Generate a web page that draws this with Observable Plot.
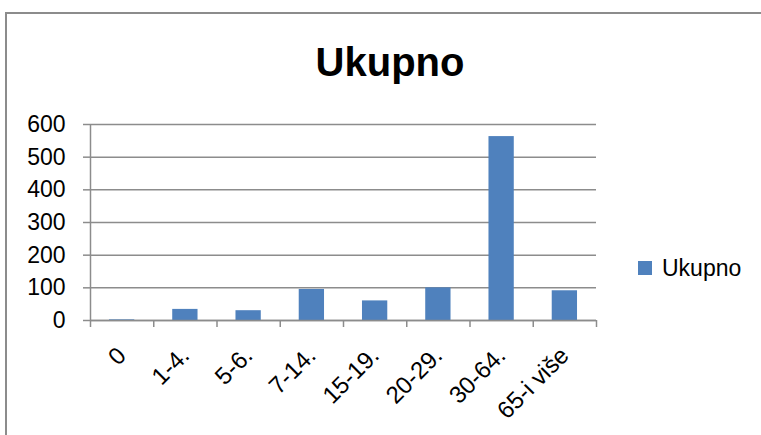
<!DOCTYPE html>
<html>
<head>
<meta charset="utf-8">
<script src="https://cdn.jsdelivr.net/npm/d3@7"></script>
<script src="https://cdn.jsdelivr.net/npm/@observablehq/plot@0.6"></script>
<style>
  html, body { margin: 0; padding: 0; background: #fff; }
  #wrap { position: relative; width: 761px; height: 435px; overflow: hidden; font-family: "Liberation Sans", Arial, sans-serif; }
  #frame { position: absolute; left: 5px; top: 12px; width: 800px; height: 500px; border-left: 2px solid #8c8c8c; border-top: 2px solid #8c8c8c; box-sizing: border-box; }
  #title { position: absolute; left: 0; width: 780px; top: 38px; text-align: center; font-size: 40px; font-weight: bold; color: #000; line-height: 48px; }
  #legend { position: absolute; left: 638px; top: 256px; font-size: 23px; color: #000; display: flex; align-items: center; line-height: 24px; }
  #legend .sw { width: 14px; height: 14px; background: #4f81bd; margin-right: 10px; }
  #chart { position: absolute; left: 0; top: 0; }
</style>
</head>
<body>
<div id="wrap">
  <div id="frame"></div>
  <div id="chart"></div>
  <div id="title">Ukupno</div>
  <div id="legend"><div class="sw"></div><span>Ukupno</span></div>
</div>
<script>
const categories = ["0", "1-4.", "5-6.", "7-14.", "15-19.", "20-29.", "30-64.", "65-i više"];
const values = [2, 34, 30, 95, 60, 100, 563, 91];
const yTicks = [0, 100, 200, 300, 400, 500, 600];
const seriesName = "Ukupno";

const data = categories.map((c, i) => ({cat: c, i, value: values[i]}));
const gridColor = "#8c8c8c";

const chart = Plot.plot({
  width: 761,
  height: 435,
  marginLeft: 90,
  marginRight: 165,
  marginTop: 124,
  marginBottom: 115,
  style: {fontFamily: "Liberation Sans, Arial, sans-serif", background: "transparent", color: "#000"},
  x: {domain: [0, categories.length]},
  y: {domain: [0, 600]},
  marks: [
    Plot.gridY(yTicks, {stroke: gridColor, strokeOpacity: 1, strokeWidth: 1.5}),
    Plot.rectY(data, {x1: d => d.i + 0.3, x2: d => d.i + 0.7, y: "value", fill: "#4f81bd"}),
    Plot.ruleY([0], {stroke: gridColor, strokeWidth: 1.5}),
    Plot.ruleX([0], {stroke: gridColor, strokeWidth: 1.5}),
    Plot.axisY(yTicks, {tickSize: 7, tickPadding: 18, fontSize: 23, stroke: gridColor, strokeWidth: 1.5, fill: "#000", label: null}),
    Plot.axisX(d3.range(categories.length + 1), {tickSize: 7, tickFormat: () => "", stroke: gridColor, strokeWidth: 1.5, label: null}),
    Plot.axisX(data.map(d => d.i + 0.5), {tickSize: 0, tickRotate: -45, tickPadding: 31, fontSize: 24, fill: "#000", tickFormat: v => categories[Math.floor(v)], label: null})
  ]
});
document.getElementById("chart").appendChild(chart);
</script>
</body>
</html>
